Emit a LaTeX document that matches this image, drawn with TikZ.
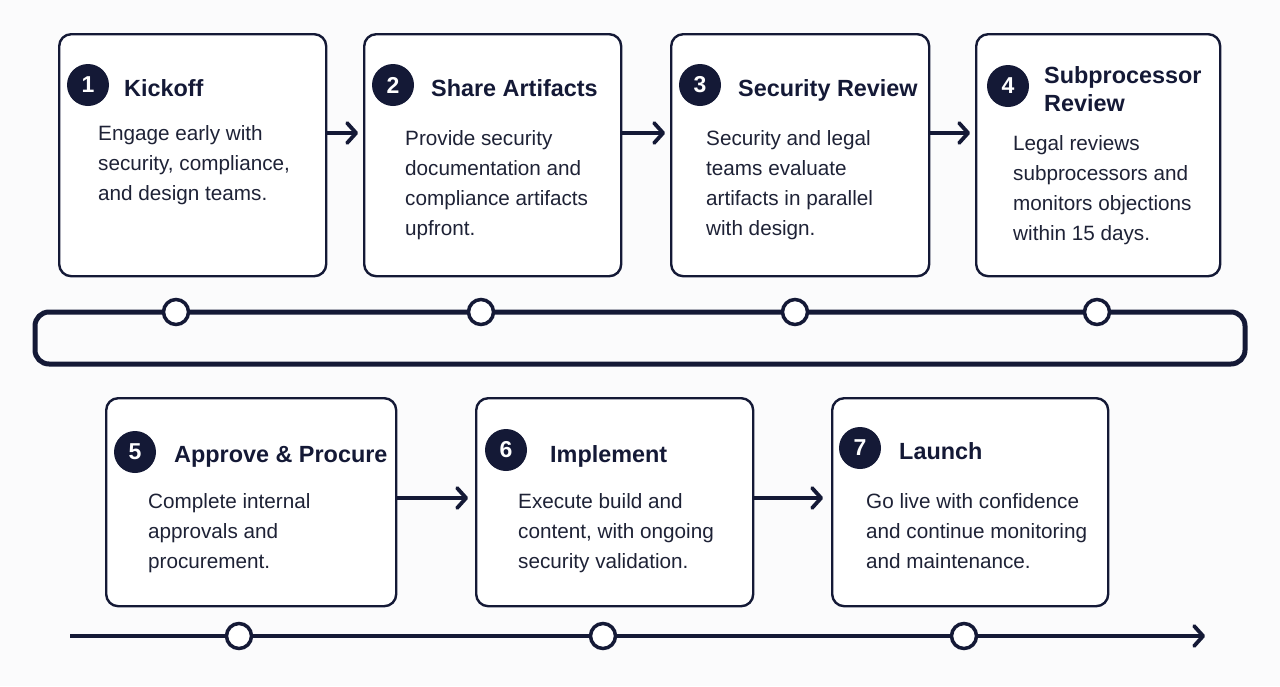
\documentclass[tikz,border=0pt]{standalone}
\usepackage{fontspec}
\setmainfont{Liberation Sans}
\usetikzlibrary{arrows.meta}
\definecolor{navy}{HTML}{141936}
\definecolor{bodytxt}{HTML}{1E2236}
\definecolor{bg}{HTML}{FBFBFC}
\tikzset{
  stepbox/.style={draw=navy, line width=2.4pt, rounded corners=12pt, fill=white, anchor=north west, inner sep=0pt},
  badge/.style={circle, fill=navy, minimum size=42pt, inner sep=0pt, text=white, font=\fontsize{23}{23}\selectfont\bfseries},
  title/.style={anchor=base west, inner sep=0pt, text=navy, align=left, font=\fontsize{23.4}{28}\selectfont\bfseries},
  body/.style={anchor=base west, inner sep=0pt, text=bodytxt, align=left, font=\fontsize{20.7}{30}\selectfont},
  conn/.style={draw=navy, line width=3.8pt, -{Straight Barb[length=9pt,width=20pt,round]}, shorten >=5pt},
  track/.style={draw=navy, line width=5pt, rounded corners=14pt},
  milestone/.style={circle, draw=navy, line width=3.5pt, fill=white, minimum size=25pt, inner sep=0pt},
}
\begin{document}
\begin{tikzpicture}[x=1pt, y=-1pt]
\fill[bg] (0,0) rectangle (1280,686);
\useasboundingbox (0,0) rectangle (1280,686);

% top row boxes
\node[stepbox, minimum width=267pt, minimum height=242pt] (b1) at (58,33) {};
\node[stepbox, minimum width=257pt, minimum height=242pt] (b2) at (363,33) {};
\node[stepbox, minimum width=258pt, minimum height=242pt] (b3) at (670,33) {};
\node[stepbox, minimum width=244pt, minimum height=242pt] (b4) at (975,33) {};

% bottom row boxes
\node[stepbox, minimum width=290pt, minimum height=208pt] (b5) at (105,397) {};
\node[stepbox, minimum width=277pt, minimum height=208pt] (b6) at (475,397) {};
\node[stepbox, minimum width=276pt, minimum height=208pt] (b7) at (831,397) {};

% badges
\node[badge] (n1) at (88,85) {1};
\node[badge] (n2) at (393,85) {2};
\node[badge] (n3) at (700,85) {3};
\node[badge] (n4) at (1008,86) {4};
\node[badge] (n5) at (135,452) {5};
\node[badge] (n6) at (506,450) {6};
\node[badge] (n7) at (860,448) {7};

% titles (base anchor = baseline of last line)
\node[title] (t1) at (124,96) {Kickoff};
\node[title] (t2) at (431,96) {Share Artifacts};
\node[title] (t3) at (738,96) {Security Review};
\node[title] (t4) at (1044,111) {Subprocessor\\Review};
\node[title] (t5) at (174,462) {Approve \& Procure};
\node[title] (t6) at (550,462) {Implement};
\node[title] (t7) at (899,459) {Launch};

% bodies (base anchor = baseline of last line)
\node[body] (d1) at (98,200) {Engage early with\\security, compliance,\\and design teams.};
\node[body] (d2) at (405,235) {Provide security\\documentation and\\compliance artifacts\\upfront.};
\node[body] (d3) at (706,235) {Security and legal\\teams evaluate\\artifacts in parallel\\with design.};
\node[body] (d4) at (1013,240) {Legal reviews\\subprocessors and\\monitors objections\\within 15 days.};
\node[body] (d5) at (148,568) {Complete internal\\approvals and\\procurement.};
\node[body] (d6) at (518,568) {Execute build and\\content, with ongoing\\security validation.};
\node[body] (d7) at (866,568) {Go live with confidence\\and continue monitoring\\and maintenance.};

% connectors
\draw[conn] (b1.east |- 0,133) -- (b2.west |- 0,133);
\draw[conn] (b2.east |- 0,133) -- (b3.west |- 0,133);
\draw[conn] (b3.east |- 0,133) -- (b4.west |- 0,133);
\draw[conn, shorten >=7pt] (b5.east |- 0,498) -- (b6.west |- 0,498);
\draw[conn, shorten >=8pt] (b6.east |- 0,498) -- (b7.west |- 0,498);

% upper track
\draw[track] (35,312) rectangle (1245,364);
\node[milestone] (m1) at (176,312) {};
\node[milestone] (m2) at (481,312) {};
\node[milestone] (m3) at (795,312) {};
\node[milestone] (m4) at (1097,312) {};

% lower timeline
\coordinate (tl0) at (70,636);
\coordinate (tl1) at (1205,636);
\draw[conn, shorten >=0pt] (tl0) -- (tl1);
\node[milestone] (m5) at (239,636) {};
\node[milestone] (m6) at (603,636) {};
\node[milestone] (m7) at (964,636) {};
\end{tikzpicture}
\end{document}
